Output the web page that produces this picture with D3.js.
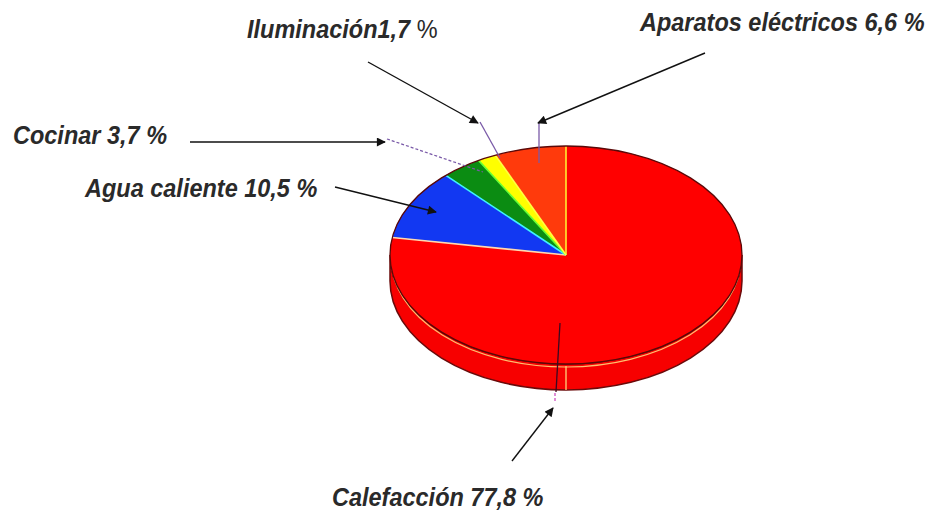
<!DOCTYPE html>
<html><head><meta charset="utf-8">
<script src="https://cdn.jsdelivr.net/npm/d3@7/dist/d3.min.js"></script>
<style>html,body{margin:0;padding:0;background:#fff;}svg{display:block;}</style>
</head><body>
<script>
// ---- data ----
const categories = ["Calefacción", "Agua caliente", "Cocinar", "Iluminación", "Aparatos eléctricos"];
const values = [77.8, 10.5, 3.7, 1.7, 6.6];
const valueLabels = ["77,8 %", "10,5 %", "3,7 %", "1,7 %", "6,6 %"];
const sliceColors = ["#ff0000", "#1238f2", "#0b8c12", "#ffff00", "#ff3a0c"];
const edgeColors = ["#ffd9b0", "#3ff0ff", "#66ff33", "#ffff40", "#ffee33"];

// ---- layout (positions only) ----
const W = 934, H = 511;
const cx = 566, cy = 255, rx = 176, ry = 109, depth = 26;
const labelPos = [
  {x: 332, y: 506, sep: " "},
  {x: 85, y: 197, sep: " "},
  {x: 13, y: 144, sep: " "},
  {x: 247, y: 38, sep: ""},
  {x: 640, y: 31, sep: " "}
];
const leaders = [
  {tail: [512, 461], head: [553, 408], inner: [[556, 392], [560, 323]], dash: false},
  {tail: [335, 187], head: [436, 212], inner: null},
  {tail: [190, 142], head: [385, 142], inner: [[387, 139], [483, 172]], dash: true},
  {tail: [368, 62], head: [478, 123], inner: [[480, 122], [500, 158]], dash: false},
  {tail: [705, 53], head: [538, 123], inner: [[539, 123], [539, 163]], dash: false}
];

const svg = d3.select("body").append("svg").attr("width", W).attr("height", H)
  .style("background", "#fff");

const pie = d3.pie().sort(null).value(d => d)(values);
const arc = d3.arc().innerRadius(0).outerRadius(rx);

// side (front half, all inside the first slice)
svg.append("path")
  .attr("d", `M${cx + rx},${cy} A${rx},${ry} 0 0 1 ${cx - rx},${cy} L${cx - rx},${cy + depth} A${rx},${ry} 0 0 0 ${cx + rx},${cy + depth} Z`)
  .attr("fill", "#f70000").attr("stroke", "#6a0a0a").attr("stroke-width", 1.5);
// rim highlight line
svg.append("path")
  .attr("d", `M${cx + rx - 1},${cy + 3} A${rx - 1},${ry} 0 0 1 ${cx - rx + 1},${cy + 3}`)
  .attr("fill", "none").attr("stroke", "#ffd37a").attr("stroke-width", 1.2).attr("opacity", 0.9);
// seam on side
svg.append("line").attr("x1", cx).attr("x2", cx).attr("y1", cy + ry + 2).attr("y2", cy + ry + depth)
  .attr("stroke", "#ffd37a").attr("stroke-width", 1.3);

// top face
const face = svg.append("g").attr("transform", `translate(${cx},${cy}) scale(1,${ry / rx})`);
face.selectAll("path.slice").data(pie).join("path")
  .attr("class", "slice")
  .attr("d", arc)
  .attr("fill", (d, i) => sliceColors[i])
  .attr("stroke", "none");

// radial separators
face.selectAll("line.sep").data(pie).join("line")
  .attr("class", "sep")
  .attr("x1", 0).attr("y1", 0)
  .attr("x2", d => rx * Math.sin(d.startAngle))
  .attr("y2", d => -rx * Math.cos(d.startAngle))
  .attr("stroke", (d, i) => edgeColors[(i + values.length - 1) % values.length])
  .attr("stroke-width", 1.6)
  .attr("vector-effect", "non-scaling-stroke");

// outer outline
face.append("circle").attr("r", rx).attr("fill", "none")
  .attr("stroke", "#5a0808").attr("stroke-width", 1.3)
  .attr("vector-effect", "non-scaling-stroke");

// arrow marker
svg.append("defs").append("marker")
  .attr("id", "ah").attr("viewBox", "0 0 10 10").attr("refX", 9).attr("refY", 5)
  .attr("markerWidth", 12).attr("markerHeight", 9).attr("markerUnits", "userSpaceOnUse")
  .attr("orient", "auto")
  .append("path").attr("d", "M0,0 L10,5 L0,10 Z").attr("fill", "#111");

// leaders
leaders.forEach((L, i) => {
  if (L.inner) {
    svg.append("line")
      .attr("x1", L.inner[0][0]).attr("y1", L.inner[0][1])
      .attr("x2", L.inner[1][0]).attr("y2", L.inner[1][1])
      .attr("stroke", i === 0 ? "#3a0a20" : "#7a5aa8").attr("stroke-width", 1.3)
      .attr("stroke-dasharray", L.dash ? "3,2" : null);
  }
  svg.append("line")
    .attr("x1", L.tail[0]).attr("y1", L.tail[1])
    .attr("x2", L.head[0]).attr("y2", L.head[1])
    .attr("stroke", "#111").attr("stroke-width", 1.4)
    .attr("marker-end", "url(#ah)");
});
// small pink dash below pie (Calefacción leader continuation)
svg.append("line").attr("x1", 555).attr("y1", 393).attr("x2", 555).attr("y2", 403)
  .attr("stroke", "#d050c0").attr("stroke-width", 1.3).attr("stroke-dasharray", "3,2");

// labels
categories.forEach((c, i) => {
  const p = labelPos[i];
  const t = svg.append("text")
    .attr("transform", `translate(${p.x},${p.y}) scale(1,1.1)`)
    .attr("font-family", "'Liberation Sans', Arial, sans-serif")
    .attr("font-size", 23.5).attr("font-weight", "bold").attr("font-style", "italic")
    .attr("fill", "#2a2a2a");
  if (i === 3) {
    t.append("tspan").text(c + p.sep + valueLabels[i].replace(" %", ""));
    t.append("tspan").attr("font-weight", "normal").attr("font-style", "normal").text(" %");
  } else {
    t.text(c + p.sep + valueLabels[i]);
  }
});
</script>
</body></html>
